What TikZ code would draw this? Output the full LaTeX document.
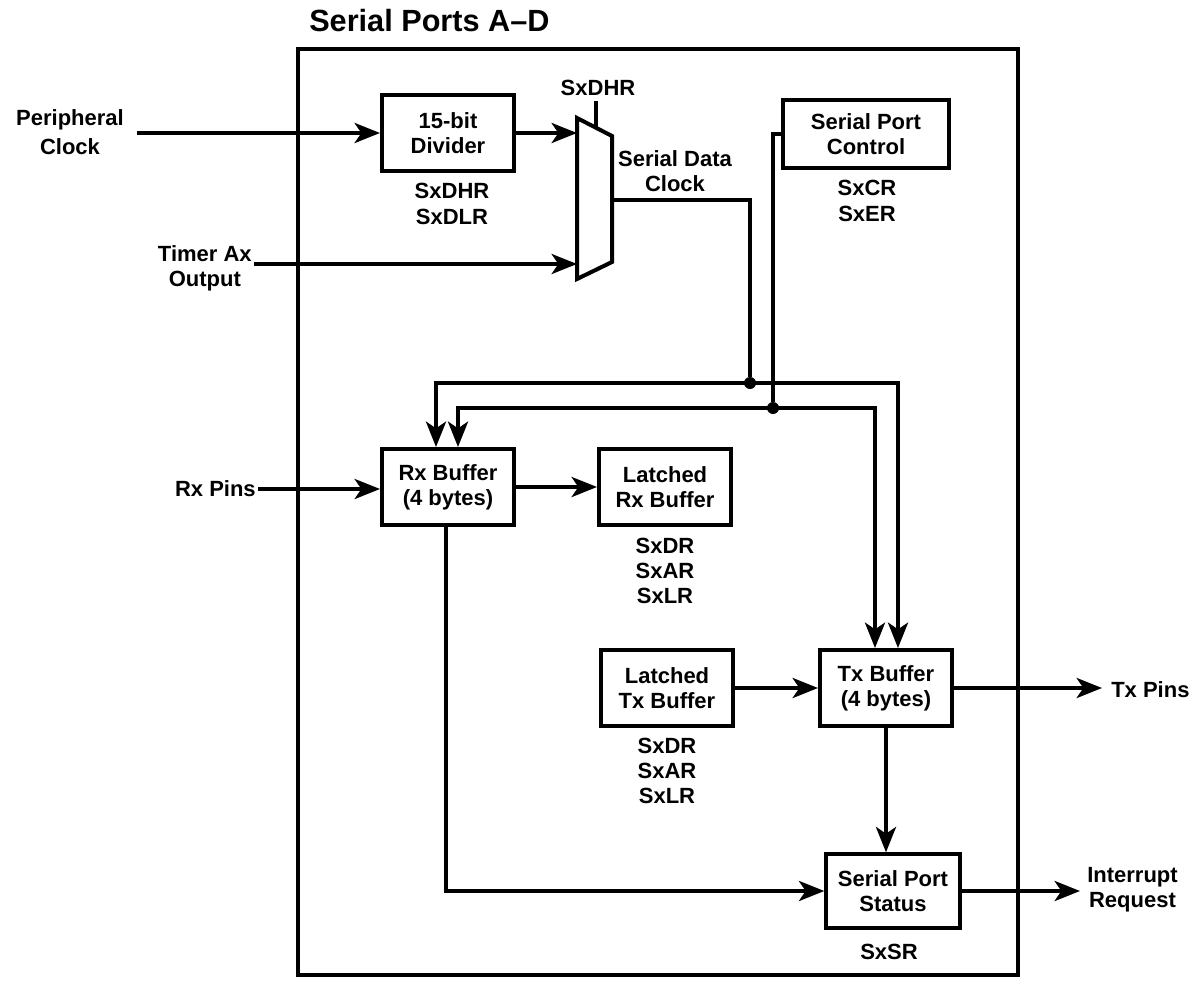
\documentclass[tikz,border=0pt]{standalone}
\usepackage{fontspec}
\setmainfont{Liberation Sans}
\usetikzlibrary{arrows.meta}
\begin{document}
\begin{tikzpicture}[x=0.75pt,y=-0.75pt,
  every node/.style={font=\fontsize{16.5}{19}\selectfont\bfseries, inner sep=0pt},
  blk/.style={draw, line width=3pt, minimum width=99pt, minimum height=57pt, align=center},
  lbl/.style={align=center},
  wire/.style={line width=3pt},
  tip/.tip={Stealth[length=19pt,width=15pt,inset=5pt]},
  arr/.style={wire, -tip},
  arr2/.style={wire, tip-tip},
  dot/.style={circle, fill, minimum size=9pt}
]
\useasboundingbox (0,0) rectangle (1198,981);
% outer frame and title
\draw[line width=2.8pt] (298,49) rectangle (1018,975);
\node[anchor=west, font=\fontsize{23}{26}\selectfont\bfseries] (title) at (309,21) {Serial Ports A--D};

% blocks
\node[blk] (div) at (448,133) {15-bit\\Divider};
\node[blk, minimum width=125pt, minimum height=51pt] (spc) at (866,134) {Serial Port\\Control};
\node[blk] (rxb) at (448,487) {Rx Buffer\\(4 bytes)};
\node[blk] (lrx) at (665,487) {Latched\\Rx Buffer};
\node[blk] (ltx) at (667,688) {Latched\\Tx Buffer};
\node[blk] (txb) at (886,688) {Tx Buffer\\(4 bytes)};
\node[blk, minimum width=100pt, minimum height=55pt] (sps) at (893,891) {Serial Port\\Status};

% register labels
\node[lbl] (divr) at (452,204) {SxDHR\\SxDLR};
\node[lbl] (spcr) at (867,201) {SxCR\\SxER};
\node[lbl] (lrxr) at (665,571) {SxDR\\SxAR\\SxLR};
\node[lbl] (ltxr) at (667,771) {SxDR\\SxAR\\SxLR};
\node[lbl] (spsr) at (889,952) {SxSR};

% mux
\coordinate (mtl) at (577,118);
\coordinate (mtr) at (612,136);
\coordinate (mbr) at (612,262);
\coordinate (mbl) at (577,279);
\draw[wire, line join=miter] (mtl) -- (mtr) -- (mbr) -- (mbl) -- cycle;
\coordinate (min1) at (577,130);
\coordinate (min2) at (577,264);
\coordinate (msel) at (596,128);
\coordinate (mout) at (612,200);
\node (mselt) at (598,88) {SxDHR};
\coordinate (mselc) at (596,101);
\draw[wire] (mselc) -- (msel);

% external labels
\node[lbl, font=\fontsize{16.5}{21.5}\selectfont\bfseries] (pc) at (70,132) {Peripheral\\Clock};
\coordinate (pcs) at (137,133);
\node[lbl, anchor=east] (ta) at (252,268) {Timer Ax\\Output};
\coordinate (tas) at (254,264);
\node[anchor=east] (rxp) at (256,489) {Rx Pins};
\coordinate (rxs) at (258,489);
\node[anchor=west] (txp) at (1111,690) {Tx Pins};
\coordinate (txe) at (1102,688);
\node[lbl, anchor=west] (irq) at (1087,890) {Interrupt\\Request};
\coordinate (irqe) at (1080,891);
\node[lbl] (sdc) at (675,171) {Serial Data\\Clock};

% bus junctions
\node[dot] (d1) at (750,383) {};
\node[dot] (d2) at (773,408) {};
\coordinate (b1l) at (436,383);
\coordinate (b1r) at (898,383);
\coordinate (b2l) at (458,408);
\coordinate (b2r) at (875,408);

% connectors
\draw[arr] (pcs) -- (div.west |- pcs);
\draw[arr] (div.east) -- (min1 |- div.east);
\draw[arr] (tas) -- (min2);
\draw[wire] (mout) -| (d1);
\draw[wire] (spc.west) -| (d2);
\draw[arr2] (b1l |- rxb.north) -- (b1l) -- (b1r) -- (b1r |- txb.north);
\draw[arr2] (b2l |- rxb.north) -- (b2l) -- (b2r) -- (b2r |- txb.north);
\draw[arr] (rxs) -- (rxb.west |- rxs);
\draw[arr] (rxb.east) -- (lrx.west);
\draw[arr] (ltx.east) -- (txb.west);
\draw[arr] (txb.east) -- (txe);
\draw[arr] (txb.south) -- (txb.south |- sps.north);
\draw[arr] ([xshift=-1.5pt]rxb.south) |- (sps.west);
\draw[arr] (sps.east) -- (irqe);
\end{tikzpicture}
\end{document}
